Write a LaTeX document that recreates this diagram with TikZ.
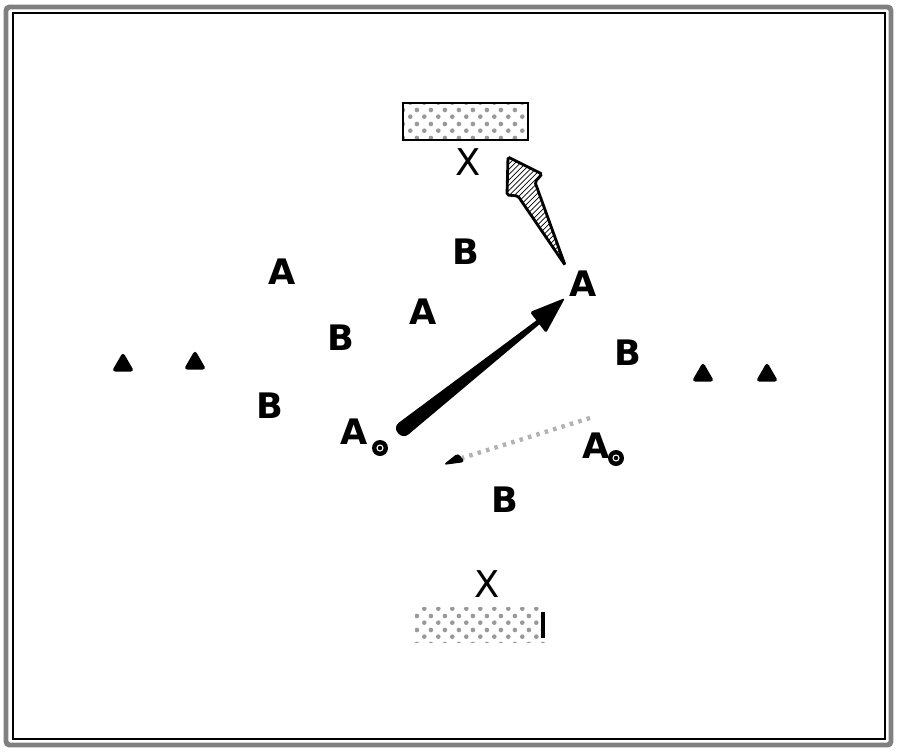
\documentclass[tikz,border=0pt]{standalone}
\usepackage{fontspec}
\setmainfont{DejaVu Sans}
\usepackage{tikz}
\usetikzlibrary{arrows,patterns,shapes.geometric}

\pgfdeclarepatternformonly{goaldots}{\pgfpointorigin}{\pgfpoint{8pt}{8pt}}{\pgfpoint{8pt}{8pt}}{
	\pgfpathcircle{\pgfpoint{2pt}{2pt}}{1.4pt}
	\pgfpathcircle{\pgfpoint{6pt}{6pt}}{1.4pt}
	\pgfusepath{fill}
}

\begin{document}
\begin{tikzpicture}[x=0.02cm, y=-0.02cm, >=stealth]
	\tikzstyle{player} = [inner sep=0pt, font=\fontsize{20}{22}\selectfont\bfseries]
	\tikzstyle{cross} = [inner sep=0pt, font=\fontsize{21}{22}\selectfont]
	\tikzstyle{cone} = [regular polygon, regular polygon sides=3, fill=black, inner sep=0pt, minimum size=0.52cm, rounded corners=2pt]
	\tikzstyle{goalbox} = [pattern=goaldots, pattern color=gray!80]
	\useasboundingbox (0,0) rectangle (900,752);
	% frame
	\draw[gray, line width=2.8pt, rounded corners=2pt] (6,7) rectangle (891,745);
	\draw[line width=0.7pt] (13,13) rectangle (885,739);
	% goals
	\draw[goalbox, line width=1.6pt] (403,103) rectangle (528,140);
	\fill[goalbox] (415,607) rectangle (545,642);
	\draw[line width=2pt] (543,612) -- (543,638);
	\node[cross] (xtop) at (468,162) {X};
	\node[cross] (xbot) at (487,584) {X};
	% cones
	\node[cone] (c1) at (123,365) {};
	\node[cone] (c2) at (195,363) {};
	\node[cone] (c3) at (703,375) {};
	\node[cone] (c4) at (767,375) {};
	% players
	\path
	node[player] (a1) at (282,272) {A}
	node[player] (b1) at (466,252) {B}
	node[player] (a2) at (423,312) {A}
	node[player] (b2) at (341,338) {B}
	node[player] (a3) at (583,284) {A}
	node[player] (b3) at (628,353) {B}
	node[player] (b4) at (270,406) {B}
	node[player] (a4) at (354,432) {A}
	node[player] (a5) at (596,446) {A}
	node[player] (b5) at (505,500) {B}
	;
	% balls
	\foreach \name/\x/\y in {ball1/380/448, ball2/616/458} {
		\node[circle, fill=black, inner sep=0pt, minimum size=0.32cm] (\name) at (\x,\y) {};
		\draw[white, line width=0.6pt] (\name) circle (3);
	}
	% pass a4 -> a3
	\coordinate (passtail) at (398,433);
	\coordinate (passhead) at (546,316);
	\fill[rounded corners=4pt] (393,427) -- (545,314) -- (547,318) -- (403,439) -- cycle;
	\fill[rounded corners=1pt] (530,312) -- (565,298) -- (546,333) -- cycle;
	% run a3 -> goal
	\filldraw[line width=1.6pt, pattern=north east lines, rounded corners=1pt]
		(508,157) -- (542,174) -- (535,182) -- (565,265) -- (518,196) -- (507,195) -- cycle;
	% dribble a5
	\coordinate (dribstart) at (590,418);
	\coordinate (dribend) at (462,458);
	\draw[gray!60, line width=2.5pt, dash pattern=on 2pt off 3pt] (dribstart) -- (dribend);
	\fill[rounded corners=2pt] (443,465) -- (458,453) -- (465,462) -- cycle;
\end{tikzpicture}
\end{document}
